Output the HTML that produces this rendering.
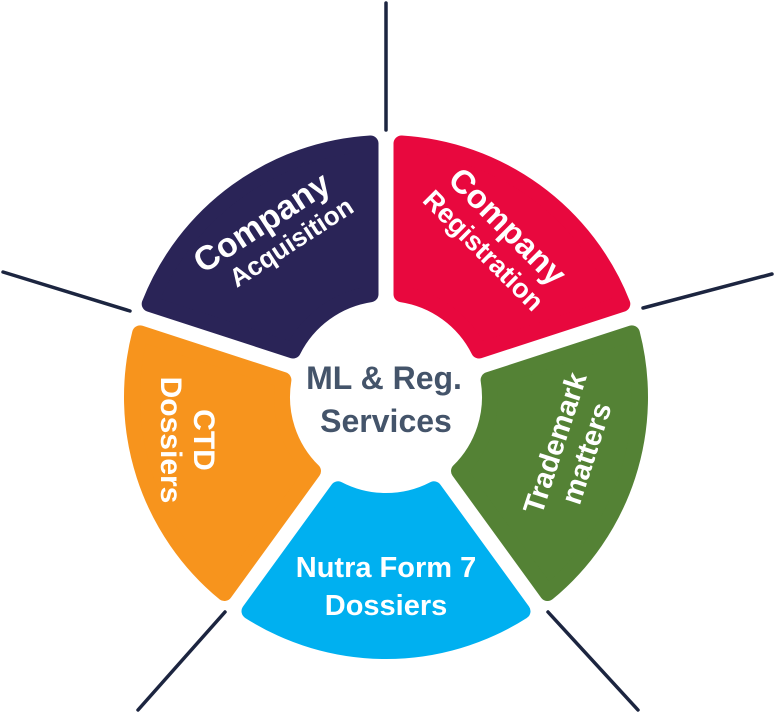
<!DOCTYPE html>
<html><head><style>
html,body{margin:0;padding:0;background:#fff;}
svg{display:block;}
text{font-family:"Liberation Sans",sans-serif;font-weight:bold;}
</style></head><body>
<svg id="s" width="775" height="713" viewBox="0 0 775 713">
<g stroke="#1c2540" stroke-width="3.5" stroke-linecap="round">
<line x1="386" y1="3" x2="386" y2="130"/>
<line x1="643" y1="308" x2="772" y2="274"/>
<line x1="3" y1="272" x2="130" y2="311"/>
<line x1="138" y1="710" x2="225" y2="612"/>
<line x1="548" y1="612" x2="638" y2="710"/>
</g>
<g id="segs"></g>
<text x="384" y="389" text-anchor="middle" font-size="32" fill="#44546a">ML &amp; Reg.</text>
<text x="386" y="432" text-anchor="middle" font-size="32" fill="#44546a">Services</text>
<g fill="#fff" text-anchor="middle">
<g transform="translate(494,240) rotate(45)"><text y="-8" font-size="33">Company</text><text y="24" font-size="27">Registration</text></g>
<g transform="translate(268,232) rotate(-33)"><text y="0" font-size="34">Company</text><text x="14" y="30" font-size="26">Acquisition</text></g>
<g transform="translate(570,448) rotate(-72)"><text y="-6" font-size="29">Trademark</text><text y="27" font-size="29">matters</text></g>
<g transform="translate(386,585)"><text y="-8" font-size="29">Nutra Form 7</text><text y="30" font-size="29">Dossiers</text></g>
<g transform="translate(188,440) rotate(90)"><text y="-6" font-size="30">CTD</text><text y="27" font-size="30">Dossiers</text></g>
</g>
</svg>
<script>
var cx=386,cy=397,ri=104,ro=254,d=15.5;
var segs=[[-90,-18,"#e8083e"],[-18,54,"#548235"],[54,126,"#00b0f0"],[126,198,"#f7941d"],[198,270,"#2a2457"]];
var g=document.getElementById("segs"),h="";
function P(r,a){a=a*Math.PI/180;return (cx+r*Math.cos(a)).toFixed(1)+","+(cy+r*Math.sin(a)).toFixed(1);}
segs.forEach(function(s){
 var ai=Math.asin(d/ri)*180/Math.PI, ao=Math.asin(d/ro)*180/Math.PI;
 var a0=s[0],a1=s[1];
 var p="M"+P(ri,a0+ai)+" L"+P(ro,a0+ao)+" A"+ro+","+ro+" 0 0 1 "+P(ro,a1-ao)+" L"+P(ri,a1-ai)+" A"+ri+","+ri+" 0 0 0 "+P(ri,a0+ai)+"Z";
 h+='<path d="'+p+'" fill="'+s[2]+'" stroke="'+s[2]+'" stroke-width="16" stroke-linejoin="round"/>';
});
g.innerHTML=h;
</script>
</body></html>
